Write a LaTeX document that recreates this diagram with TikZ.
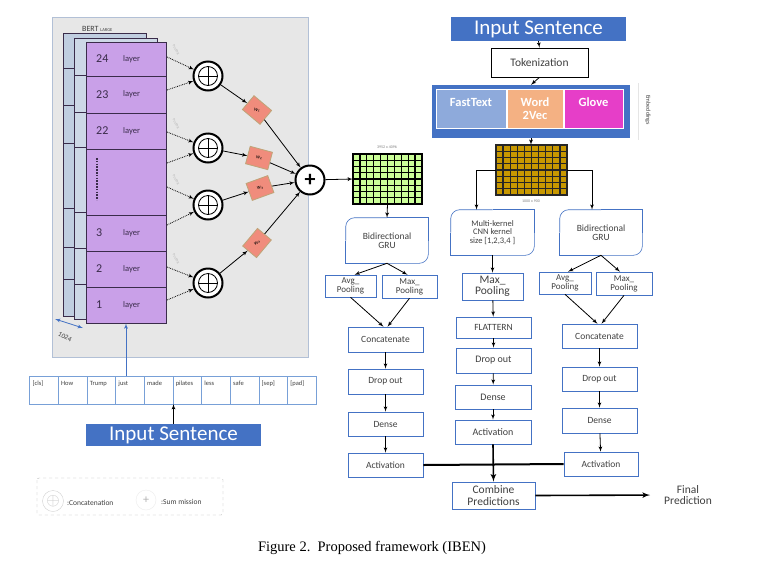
\documentclass[tikz,border=0pt]{standalone}
\usepackage{fontspec}
\setmainfont{Carlito}
\newfontfamily\capfont{Liberation Serif}
\newfontfamily\symfont{DejaVu Sans}
\usepackage{tikz}
\usetikzlibrary{arrows,positioning}
\newcommand\fsz[1]{\fontsize{#1}{#1}\selectfont}
\definecolor{panelgray}{RGB}{231,231,231}
\definecolor{panelline}{RGB}{178,192,214}
\definecolor{bertpurple}{RGB}{201,160,232}
\definecolor{bertline}{RGB}{58,44,74}
\definecolor{backblue}{RGB}{192,206,224}
\definecolor{wsalmon}{RGB}{240,140,124}
\definecolor{wline}{RGB}{190,165,120}
\definecolor{boxblue}{RGB}{68,114,196}
\definecolor{tokblue}{RGB}{120,160,215}
\definecolor{inblue}{RGB}{68,114,196}
\definecolor{ftblue}{RGB}{142,170,219}
\definecolor{wvorange}{RGB}{244,177,131}
\definecolor{glovepink}{RGB}{230,62,200}
\definecolor{ggreen}{RGB}{204,255,153}
\definecolor{bgold}{RGB}{200,152,0}
\definecolor{txtgray}{RGB}{64,64,64}
\tikzset{
    %Define standard arrow tip
    >=latex',
    %Define style for flow boxes
    flow/.style={
           rectangle,
           draw=boxblue, semithick,
           fill=white,
           text=txtgray,
           align=center,
           inner sep=1pt,
           font=\fsz{9.5}},
    % boxes with two round corners (border drawn later)
    flowround/.style={
           flow,
           draw=none},
    % BERT layer rows
    layerrow/.style={
           rectangle,
           draw=bertline, thick,
           fill=bertpurple,
           minimum width=80pt,
           inner sep=0pt},
    % concatenation circle
    concat/.style={
           circle,
           draw=black, line width=2pt,
           fill=white,
           minimum size=29pt,
           inner sep=0pt,
           path picture={
             \draw[thick] (path picture bounding box.center) circle (9.5pt);
             \draw[thick] ([xshift=-9.5pt]path picture bounding box.center) -- ([xshift=9.5pt]path picture bounding box.center);
             \draw[thick] ([yshift=-9.5pt]path picture bounding box.center) -- ([yshift=9.5pt]path picture bounding box.center);}},
    % weight boxes
    wbox/.style={
           rectangle,
           draw=wline, thick,
           fill=wsalmon,
           minimum width=23pt,
           minimum height=18pt,
           inner sep=0pt},
    wtxt/.style={
           inner sep=0pt,
           font=\symfont\fsz{5}},
    % embedding cells
    embcell/.style={
           rectangle,
           draw=white, thick,
           minimum height=39pt,
           inner sep=0pt,
           align=center,
           text=white,
           font=\fsz{12.5}\bfseries},
    % blue title boxes
    titlebox/.style={
           rectangle,
           fill=inblue,
           text=white,
           minimum width=175pt,
           inner sep=0pt,
           font=\fsz{21}},
    % Define arrow styles
    pil/.style={
           ->,
           thick},
    dotpil/.style={
           ->,
           densely dotted,
           thick},
    bluepil/.style={
           ->,
           thick,
           draw=boxblue}
}
\begin{document}
\begin{tikzpicture}[x=1pt,y=-1pt]
    \fill[white] (0,0) rectangle (760,571);
    \useasboundingbox (0,0) rectangle (760,571);
    %BERT panel
    \draw[draw=panelline, fill=panelgray] (52,17) rectangle (308,357);
    \node[anchor=west, inner sep=0pt, font=\fsz{8}, text=txtgray] (bert) at (82,29) {BERT {\fsz{4.5}LARGE}};
    \draw[draw=bertline, thick, fill=backblue] (63,33) rectangle (146,316);
    \foreach \y in {68,105,143,208,247,279}
        \draw[bertline, thick] (63,\y) -- (146,\y);
    \draw[draw=bertline, thick, fill=backblue!80] (74,38) rectangle (157,319);
    \foreach \y in {75,112,147,212,248,284}
        \draw[bertline, thick] (74,\y) -- (157,\y);
    %layers
    \foreach \n/\y/\h in {24/59/34,23/94.5/37,22/131/36,3/233/36,2/269/36,1/305/36}{
        \node[layerrow, minimum height=\h pt] (layer\n) at (126,\y) {};
        \node[anchor=west, inner sep=0pt, font=\fsz{12}, text=bertline] (num\n) at (96,\y) {\n};
        \node[anchor=west, inner sep=0pt, font=\fsz{8.5}, text=bertline] (lay\n) at (123,\y) {layer};
    }
    \node[layerrow, minimum height=66pt] (layerdots) at (126,182) {};
    \draw[bertline, line width=2.2pt, dash pattern=on 1.6pt off 1.2pt] (97,158) -- (97,200);
    %concatenation circles
    \node[concat] (cc1) at (208,76) {};
    \node[concat] (cc2) at (208,148) {};
    \node[concat] (cc3) at (208,205) {};
    \node[concat] (cc4) at (208,283) {};
    \foreach \k/\y in {1/57,2/90,3/132,4/163,5/187,6/225,7/267,8/300}
        \coordinate (s\k) at (167,\y);
    \draw[dotpil] (s1) -- (cc1);
    \draw[dotpil] (s2) -- (cc1);
    \draw[dotpil] (s3) -- (cc2);
    \draw[dotpil] (s4) -- (cc2);
    \draw[dotpil] (s5) -- (cc3);
    \draw[dotpil] (s6) -- (cc3);
    \draw[dotpil] (s7) -- (cc4);
    \draw[dotpil] (s8) -- (cc4);
    \foreach \k/\y in {1/50,2/124,3/180,4/259}
        \node[rotate=-60, inner sep=0pt, font=\fsz{3.5}, text=gray!60] (pl\k) at (176,\y) {Pooling};
    %weights and sum
    \foreach \k/\x/\y/\r in {1/257/110/-40,2/259/158/-15,3/260/188/20,4/257/243/50}{
        \node[wbox, rotate=\r] (w\k) at (\x,\y) {};
        \node[wtxt, rotate=\r/2] (wt\k) at (w\k) {w\ifcase\k\or₁\or₂\or₃\or₄\fi};
    }
    \node[circle, draw=black, line width=2pt, fill=white, minimum size=29pt, inner sep=0pt, font=\fsz{22}\bfseries] (sum) at (310,180) {+};
    \draw[pil] (cc1) -- (w1);
    \draw[pil] (w1) -- (sum);
    \draw[pil] (cc2) -- (w2);
    \draw[pil] (w2) -- (sum);
    \draw[pil] (cc3) -- (w3);
    \draw[pil] (w3) -- (sum);
    \draw[pil] (cc4) -- (w4);
    \draw[pil] (w4) -- (sum);
    %1024
    \coordinate (d1) at (55,319);
    \coordinate (d2) at (83,328);
    \draw[bluepil, <->] (d1) -- (d2);
    \node[rotate=-28, inner sep=0pt, font=\fsz{7}, text=txtgray] (dim) at (65,337) {1024};
    %tokens
    \foreach \w [count=\i] in {{[cls]},How,Trump,just,made,pilates,less,safe,{[sep]},{[pad]}}{
        \node[rectangle, draw=tokblue, minimum width=28.65pt, minimum height=28pt, inner sep=0pt] (tk\i) at (29.5+28.65*\i-14.3,390) {};
        \node[anchor=north west, inner sep=0pt, font=\fsz{6.5}, text=txtgray] (wd\i) at ([xshift=3pt,yshift=-5pt]tk\i.north west) {\w};
    }
    \draw[bluepil] (tk4.north -| layer1.south) -- (layer1.south);
    \node[titlebox, minimum height=22pt] (inl) at (173.5,435) {Input Sentence};
    \draw[pil] (inl.north) -- (inl.north |- tk6.south);
    %legend
    \draw[dashed, gray!60, rounded corners=2pt] (37,478) rectangle (223,515);
    \node[circle, draw=gray!35, minimum size=21pt, inner sep=0pt, text=gray!45, font=\fsz{18}] (lgcat) at (53,501) {$\oplus$};
    \node[anchor=west, inner sep=0pt, font=\fsz{7.5}, text=txtgray] (lgcattxt) at (67,503) {:Concatenation};
    \node[circle, draw=gray!15, minimum size=20pt, inner sep=0pt, text=gray!60, font=\fsz{12}] (lgsum) at (146,500) {+};
    \node[anchor=west, inner sep=0pt, font=\fsz{7.5}, text=txtgray] (lgsumtxt) at (161,502) {:Sum mission};
    %right part
    \node[titlebox, minimum height=24pt] (inr) at (538.5,29) {Input Sentence};
    \node[rectangle, draw=black, semithick, minimum width=97pt, minimum height=29pt, font=\fsz{11.5}, text=txtgray] (tok) at (539.5,62.5) {Tokenization};
    \node[rectangle, fill=inblue, minimum width=198pt, minimum height=53pt] (emb) at (531,111.5) {};
    \node[embcell, fill=ftblue, minimum width=70pt] (ft) at (471,108.5) {FastText\\\phantom{2Vec}};
    \node[embcell, fill=wvorange, minimum width=56pt] (wv) at (535,108.5) {Word\\2Vec};
    \node[embcell, fill=glovepink, minimum width=59pt] (gl) at (593.5,108.5) {Glove\\\phantom{2Vec}};
    \draw[gray!20] (638,83) -- (638,140);
    \node[rotate=-90, inner sep=0pt, font=\fsz{6}, text=txtgray] (embl) at (648,110) {Embeddings};
    \draw[pil] (inr.south) -- (tok.north);
    \draw[pil] (tok.south) -- (emb.north);
    %grids
    \node[minimum width=69pt, minimum height=50pt, inner sep=0pt] (ggrid) at (387.5,179) {};
    \foreach \i in {0,...,9}
        \foreach \j in {0,...,7}
            \filldraw[fill=ggreen, draw=black, line width=1.3pt] (353+\i*6.9,154+\j*6.25) rectangle ++(6.9,6.25);
    \node[inner sep=0pt, font=\fsz{4}, text=gray] (gsize) at (387,147) {3952 x 4096};
    \node[minimum width=71pt, minimum height=50pt, inner sep=0pt] (bgrid) at (531.5,170) {};
    \foreach \i in {0,...,9}
        \foreach \j in {0,...,7}
            \filldraw[fill=bgold, draw=black!85, line width=1.3pt] (496+\i*7.1,145+\j*6.25) rectangle ++(7.1,6.25);
    \node[inner sep=0pt, font=\fsz{4}, text=gray] (bsize) at (531,201) {1000 x 900};
    \draw[pil] (sum) -- (ggrid.west);
    \draw[pil] (emb.south) -- (emb.south |- bgrid.north);
    %left branch
    \node[flowround, minimum width=82pt, minimum height=45pt] (lgru) at (387,240.5) {Bidirectional\\GRU};
    \node[flow, minimum width=51pt, minimum height=22pt, font=\fsz{9}] (lavg) at (350.5,286) {Avg\_\\Pooling};
    \node[flow, minimum width=55pt, minimum height=23pt, font=\fsz{9}] (lmax) at (409.5,286.5) {Max\_\\Pooling};
    \node[flow, minimum width=75pt, minimum height=25pt] (lcat) at (385.5,339.5) {Concatenate};
    \node[flow, minimum width=75pt, minimum height=25pt] (ldrop) at (385.5,381.5) {Drop out};
    \node[flow, minimum width=75pt, minimum height=24pt] (ldense) at (385.5,424) {Dense};
    \node[flow, minimum width=75pt, minimum height=24pt] (lact) at (385.5,465) {Activation};
    %middle branch
    \node[flowround, minimum width=83pt, minimum height=45pt, font=\fsz{8.5}] (cnn) at (492.5,232.5) {Multi-kernel\\CNN kernel\\size [1,2,3,4 ]};
    \node[flow, minimum width=61pt, minimum height=27pt, font=\fsz{11.5}] (mpool) at (492.5,286.5) {Max\_\\Pooling};
    \node[flow, minimum width=75pt, minimum height=21pt] (flat) at (493.5,327.5) {FLATTERN};
    \node[flow, minimum width=75pt, minimum height=25pt, font=\fsz{10}] (mdrop) at (493.5,360.5) {Drop out};
    \node[flow, minimum width=76pt, minimum height=24pt, font=\fsz{10}] (mdense) at (493,397) {Dense};
    \node[flow, minimum width=76pt, minimum height=24pt, font=\fsz{10}] (mact) at (493,432) {Activation};
    \node[flow, minimum width=83pt, minimum height=27pt, font=\fsz{11.5}] (combine) at (493.5,495.5) {Combine\\Predictions};
    %right branch
    \node[flowround, minimum width=82pt, minimum height=45pt] (rgru) at (601,232.5) {Bidirectional\\GRU};
    \node[flow, minimum width=52pt, minimum height=22pt, font=\fsz{9}] (ravg) at (565,283) {Avg\_\\Pooling};
    \node[flow, minimum width=56pt, minimum height=23pt, font=\fsz{9}] (rmax) at (624,283.5) {Max\_\\Pooling};
    \node[flow, minimum width=75pt, minimum height=24pt] (rcat) at (599.5,336) {Concatenate};
    \node[flow, minimum width=75pt, minimum height=24pt] (rdrop) at (599.5,379) {Drop out};
    \node[flow, minimum width=75pt, minimum height=25pt] (rdense) at (599.5,420.5) {Dense};
    \node[flow, minimum width=74pt, minimum height=24pt] (ract) at (601,464) {Activation};
    \node[align=center, inner sep=0pt, font=\fsz{11.5}, text=txtgray] (final) at (688,495) {Final\\Prediction};
    %round corners
    \foreach \n in {lgru,cnn,rgru}{
        \draw[boxblue, semithick] (\n.north) -- (\n.north east) -- (\n.east);
        \draw[boxblue, semithick, rounded corners=9pt] (\n.east) |- (\n.south);
        \draw[boxblue, semithick] (\n.south) -- (\n.south west) -- (\n.west);
        \draw[boxblue, semithick, rounded corners=9pt] (\n.west) |- (\n.north);
    }
    %arrows
    \draw[pil] (bgrid.west) -| ([xshift=-16pt]cnn.north);
    \draw[pil] (bgrid.east) -| ([xshift=-9pt]rgru.north);
    \draw[pil] (ggrid.south) -- (lgru.north);
    \draw[pil] (lgru.south) -- ([xshift=4pt]lavg.north);
    \draw[pil] (lgru.south) -- ([xshift=-2pt]lmax.north);
    \draw[pil] (lavg.south) -- ([xshift=-2pt]lcat.north);
    \draw[pil] (lmax.south) -- ([xshift=2pt]lcat.north);
    \draw[pil] (lcat) -- (ldrop);
    \draw[pil] (ldrop) -- (ldense);
    \draw[pil] (ldense) -- (lact);
    \draw[pil] (cnn) -- (mpool);
    \draw[pil] (mpool) -- (flat);
    \draw[pil] (flat) -- (mdrop);
    \draw[pil] (mdrop) -- (mdense);
    \draw[pil] (mdense) -- (mact);
    \draw[pil] (rgru.south) -- ([xshift=3pt]ravg.north);
    \draw[pil] (rgru.south) -- ([xshift=-4pt]rmax.north);
    \draw[pil] (ravg.south) -- ([xshift=-2pt]rcat.north);
    \draw[pil] (rmax.south) -- ([xshift=2pt]rcat.north);
    \draw[pil] (rcat) -- (rdrop);
    \draw[pil] (rdrop) -- (rdense);
    \draw[pil] (rdense) -- (ract);
    \draw[line width=2pt] (lact.east) -- (ract.west);
    \draw[->, line width=1.6pt] (mact.south) -- (combine.north);
    \draw[->, line width=1.6pt, shorten >=14pt] (combine.east) -- (final.west);
    %caption
    \node[inner sep=0pt, font=\capfont\fsz{14.5}] (cap) at (372,548) {Figure 2.\ \ Proposed framework (IBEN)};
\end{tikzpicture}
\end{document}
